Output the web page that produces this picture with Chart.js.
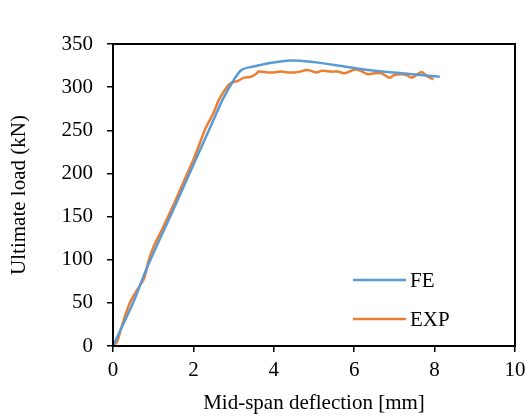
<!DOCTYPE html>
<html>
<head>
<meta charset="utf-8">
<script src="https://cdn.jsdelivr.net/npm/chart.js@4"></script>
<style>
  html, body { margin: 0; padding: 0; background: #fff; }
  #wrap { width: 525px; height: 419px; }
</style>
</head>
<body>
<div id="wrap"><canvas id="chart" width="525" height="419"></canvas></div>
<script>
const feX = [0, 0.5, 0.84, 1.5, 2.0, 2.5, 2.72, 3.0, 3.2, 3.5, 3.84, 4.42, 5.0, 5.51, 6.34, 7.18, 8.13];
const feY = [0, 50, 90, 158, 210, 262, 285, 308, 320, 324, 327.5, 331, 329, 325.6, 320, 316, 312];

const expX = [0, 0.1, 0.2, 0.3, 0.43, 0.6, 0.75, 0.8, 0.88, 1.0, 1.22, 1.5, 1.8, 2.0, 2.175, 2.3, 2.5, 2.63, 2.88, 3.0,
  3.1, 3.26, 3.43, 3.55, 3.63, 3.84, 4.0, 4.18, 4.35, 4.51, 4.65, 4.84, 5.05, 5.2, 5.43, 5.6, 5.76, 6.03, 6.2, 6.34,
  6.5, 6.68, 6.88, 7.0, 7.18, 7.3, 7.43, 7.55, 7.68, 7.8, 7.97];
const expY = [0, 5, 20, 35, 51, 65, 76, 82, 98, 114, 135, 163, 195, 216, 237, 252, 270, 285, 303, 306,
  307, 311, 312, 315, 318, 317, 317, 318, 317, 317, 318, 320, 317, 319, 318, 318, 316, 320.5, 318, 315,
  316, 316, 311, 314, 315, 314, 311, 314, 317.5, 313, 309];

const xTicks = [0, 2, 4, 6, 8, 10];
const yTicks = [0, 50, 100, 150, 200, 250, 300, 350];

const FONT = "'Liberation Serif', 'Times New Roman', serif";

const toPoints = (xs, ys) => xs.map((x, i) => ({ x, y: ys[i] }));

// box round the plot area plus the legend sitting inside it
const frameAndLegend = {
  id: "frameAndLegend",
  afterDraw(chart) {
    const { ctx, chartArea: a } = chart;
    ctx.save();
    ctx.strokeStyle = "#000";
    ctx.lineWidth = 2;
    ctx.strokeRect(a.left, a.top, a.right - a.left, a.bottom - a.top);

    const items = chart.data.datasets;
    const rows = [280, 319];
    ctx.font = "21px " + FONT;
    ctx.textBaseline = "middle";
    ctx.fillStyle = "#000";
    items.forEach((ds, i) => {
      ctx.strokeStyle = ds.borderColor;
      ctx.lineWidth = 2.5;
      ctx.beginPath();
      ctx.moveTo(353, rows[i]);
      ctx.lineTo(406, rows[i]);
      ctx.stroke();
      ctx.fillText(ds.label, 410, rows[i] + 1);
    });
    ctx.restore();
  },
};

new Chart(document.getElementById("chart"), {
  type: "line",
  data: {
    datasets: [
      {
        label: "FE",
        data: toPoints(feX, feY),
        borderColor: "#5b9bd5",
        borderWidth: 2.5,
        pointRadius: 0,
        tension: 0.3,
      },
      {
        label: "EXP",
        data: toPoints(expX, expY),
        borderColor: "#ed7d31",
        borderWidth: 2.5,
        pointRadius: 0,
        tension: 0.3,
      },
    ],
  },
  options: {
    responsive: false,
    animation: false,
    layout: { padding: { left: 0, top: 44, right: 2, bottom: 0 } },
    plugins: { legend: { display: false }, tooltip: { enabled: false } },
    scales: {
      x: {
        type: "linear",
        min: 0,
        max: 10,
        afterBuildTicks: (s) => { s.ticks = xTicks.map((v) => ({ value: v })); },
        afterFit: (s) => { s.height = 73; s.paddingRight = 10; },
        grid: { drawOnChartArea: false, drawTicks: true, tickLength: 6, color: "#000", lineWidth: 1.5 },
        border: { color: "#000", width: 2 },
        ticks: { color: "#000", font: { family: FONT, size: 21 }, padding: 6 },
        title: { display: true, text: "Mid-span deflection [mm]", color: "#000", font: { family: FONT, size: 21 }, padding: { top: 0, bottom: 3 } },
      },
      y: {
        min: 0,
        max: 350,
        afterBuildTicks: (s) => { s.ticks = yTicks.map((v) => ({ value: v })); },
        afterFit: (s) => { s.width = 113; },
        grid: { drawOnChartArea: false, drawTicks: true, tickLength: 6, color: "#000", lineWidth: 1.5 },
        border: { color: "#000", width: 2 },
        ticks: { color: "#000", font: { family: FONT, size: 21 }, padding: 14 },
        title: { display: true, text: "Ultimate load (kN)", color: "#000", font: { family: FONT, size: 21 }, padding: { top: 7, bottom: 0 } },
      },
    },
  },
  plugins: [frameAndLegend],
});
</script>
</body>
</html>
